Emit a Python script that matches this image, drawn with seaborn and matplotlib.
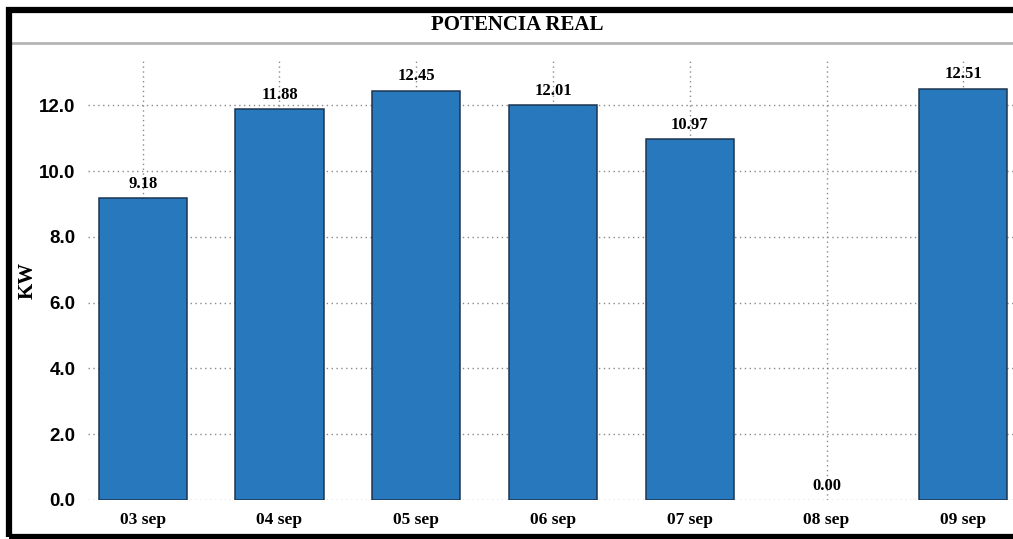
import matplotlib
matplotlib.use("Agg")
import matplotlib.pyplot as plt
from matplotlib.patches import Rectangle
from matplotlib.lines import Line2D
import seaborn as sns
import pandas as pd

# Daily real power readings
days = ["03 sep", "04 sep", "05 sep", "06 sep", "07 sep", "08 sep", "09 sep"]
power_kw = [9.18, 11.88, 12.45, 12.01, 10.97, 0.00, 12.51]
y_ticks = [0.0, 2.0, 4.0, 6.0, 8.0, 10.0, 12.0]

df = pd.DataFrame({"day": days, "kw": power_kw})

sns.set_theme(style="white")
plt.rcParams["font.family"] = ["Liberation Serif", "DejaVu Serif"]
plt.rcParams["text.color"] = "black"
plt.rcParams["xtick.color"] = "black"
plt.rcParams["ytick.color"] = "black"
plt.rcParams["axes.labelcolor"] = "black"

W, H = 1013, 539
fig = plt.figure(figsize=(W / 100, H / 100), dpi=100)
fig.patch.set_facecolor("white")

ax = fig.add_axes([88 / W, 1 - 500 / H, (1018 - 88) / W, (500 - 60) / H])
sns.barplot(data=df, x="day", y="kw", ax=ax, color="#2878be", saturation=1,
            width=0.645, edgecolor="#1c3550", linewidth=1.1, zorder=3)

# an empty day draws no outline on the baseline
for bar, v in zip(ax.patches, power_kw):
    if v == 0:
        bar.set_linewidth(0)

ax.set_xlim(-0.40, 6.40)
ax.set_ylim(0, 13.38)
ax.set_yticks(y_ticks)
ax.set_yticklabels([f"{v:.1f}" for v in y_ticks], fontsize=13.5, fontweight="bold",
                   family="Liberation Sans")
ax.set_xticks(range(len(days)))
ax.set_xticklabels(days, fontsize=12.5, fontweight="bold")
ax.tick_params(axis="both", length=0)
ax.tick_params(axis="y", pad=9)
ax.tick_params(axis="x", pad=9)
ax.set_xlabel("")
ax.set_ylabel("KW", fontsize=15, fontweight="bold")
ax.yaxis.set_label_coords((38 - 88) / (1018 - 88), 0.5)
ax.grid(True, axis="both", color="#8a8a8a", linestyle=(0, (1, 2.5)), linewidth=1.0, zorder=0)
ax.set_axisbelow(True)
for s in ax.spines.values():
    s.set_visible(False)

# value labels above each bar
for i, v in enumerate(power_kw):
    ax.annotate(f"{v:.2f}", (i, v), xytext=(0, 4.5), textcoords="offset points",
                ha="center", va="bottom", fontsize=12, fontweight="bold", zorder=5)

# outer frame and title band
fig.patches.append(Rectangle((8.5 / W, 1 - 537 / H), (W + 20) / W, (537 - 9.5) / H,
                             transform=fig.transFigure, fill=False,
                             edgecolor="black", linewidth=4.5, zorder=10))
fig.lines.append(Line2D([12 / W, 1.0], [1 - 43 / H, 1 - 43 / H], transform=fig.transFigure,
                        color="#b5b5b5", linewidth=2.0, zorder=9))
fig.text(517 / W, 1 - 25 / H, "POTENCIA REAL", ha="center", va="center",
         fontsize=15, fontweight="bold")

fig.savefig("out.png", dpi=100)
